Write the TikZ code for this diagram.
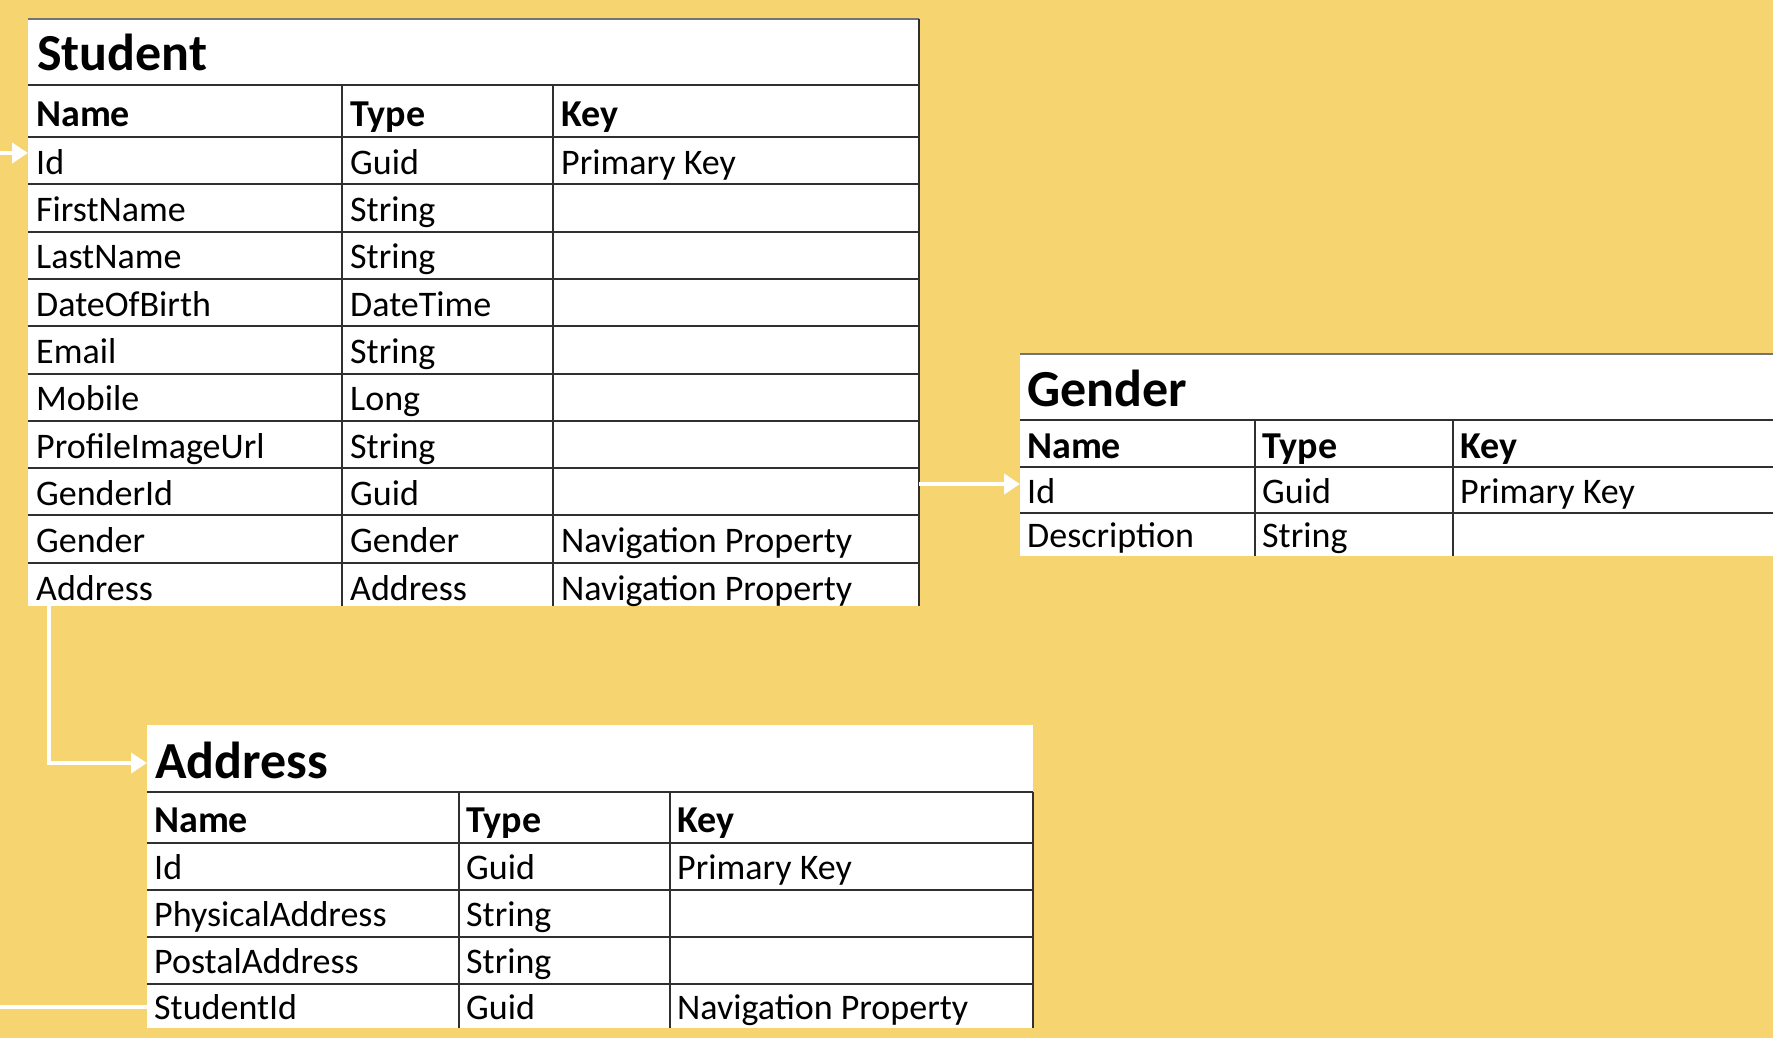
\documentclass[tikz,border=0pt]{standalone}
\usepackage{fontspec}
\setmainfont{Carlito}
\usetikzlibrary{arrows.meta}
\definecolor{bg}{HTML}{F6D46F}
\definecolor{gridc}{HTML}{303030}
\tikzset{
  tbox/.style={fill=white, draw=none, inner sep=0pt, outer sep=0pt, anchor=north west},
  gridline/.style={draw=gridc, line width=2pt},
  border/.style={draw=black!55, line width=1.2pt},
  ttl/.style={anchor=base west, inner sep=0pt, font=\fontsize{52}{60}\selectfont\bfseries},
  hdr/.style={anchor=base west, inner sep=0pt, font=\fontsize{38}{44}\selectfont\bfseries},
  cell/.style={anchor=base west, inner sep=0pt, font=\fontsize{36}{42}\selectfont},
  conn/.style={draw=white, line width=4pt},
  connarrow/.style={conn, -{Triangle[width=20pt,length=16pt]}},
}
\begin{document}
\begin{tikzpicture}[x=1pt,y=-1pt]
\useasboundingbox[fill=bg] (0,0) rectangle (1773,1038);

% ---------------- Student ----------------
\node[tbox, minimum width=891pt, minimum height=587pt] (student) at (28,19) {};
\draw[border] (28,19) -- (919,19);
\draw[gridline] (28,85) -- (919,85);
\draw[gridline] (28,137) -- (919,137);
\foreach \i in {1,...,9} \draw[gridline] (28,137+47.3*\i) -- (919,137+47.3*\i);
\draw[gridline] (342,85) -- (342,606);
\draw[gridline] (553,85) -- (553,606);
\draw[gridline] (919,19) -- (919,606);
\node[ttl] (s-title) at (37,71) {Student};
\node[hdr] (s-hn) at (36,127) {Name};
\node[hdr] (s-ht) at (350,127) {Type};
\node[hdr] (s-hk) at (561,127) {Key};
\foreach \n/\t/\k [count=\i] in {Id/Guid/Primary Key,FirstName/String/,LastName/String/,DateOfBirth/DateTime/,Email/String/,Mobile/Long/,ProfileImageUrl/String/,GenderId/Guid/,Gender/Gender/Navigation Property,Address/Address/Navigation Property}{
  \node[cell] (s-\i-n) at (36,137+47.3*\i-10) {\n};
  \node[cell] (s-\i-t) at (350,137+47.3*\i-10) {\t};
  \node[cell] (s-\i-k) at (561,137+47.3*\i-10) {\k};
}

% ---------------- Gender ----------------
\node[tbox, minimum width=760pt, minimum height=202pt] (gender) at (1020,354) {};
\draw[border] (1020,354) -- (1780,354);
\draw[gridline] (1020,419.5) -- (1780,419.5);
\draw[gridline] (1020,467) -- (1780,467);
\draw[gridline] (1020,513) -- (1780,513);
\draw[gridline] (1255,419.5) -- (1255,556);
\draw[gridline] (1453,419.5) -- (1453,556);
\node[ttl] (g-title) at (1027,406) {Gender};
\node[hdr] (g-hn) at (1027,458) {Name};
\node[hdr] (g-ht) at (1262,458) {Type};
\node[hdr] (g-hk) at (1460,458) {Key};
\node[cell] (g-1-n) at (1027,503) {Id};
\node[cell] (g-1-t) at (1262,503) {Guid};
\node[cell] (g-1-k) at (1460,503) {Primary Key};
\node[cell] (g-2-n) at (1027,547) {Description};
\node[cell] (g-2-t) at (1262,547) {String};

% ---------------- Address ----------------
\node[tbox, minimum width=886pt, minimum height=303pt] (address) at (147,725) {};
\draw[gridline] (147,792) -- (1033,792);
\draw[gridline] (147,843) -- (1033,843);
\foreach \y in {890,937,984} \draw[gridline] (147,\y) -- (1033,\y);
\draw[gridline] (459,792) -- (459,1028);
\draw[gridline] (670,792) -- (670,1028);
\draw[gridline] (1033,792) -- (1033,1028);
\node[ttl] (a-title) at (155,778) {Address};
\node[hdr] (a-hn) at (154,832) {Name};
\node[hdr] (a-ht) at (466,832) {Type};
\node[hdr] (a-hk) at (677,832) {Key};
\foreach \n/\t/\k/\y [count=\i] in {Id/Guid/Primary Key/879,PhysicalAddress/String//926,PostalAddress/String//973,StudentId/Guid/Navigation Property/1019}{
  \node[cell] (a-\i-n) at (154,\y) {\n};
  \node[cell] (a-\i-t) at (466,\y) {\t};
  \node[cell] (a-\i-k) at (677,\y) {\k};
}

% ---------------- Connectors ----------------
\coordinate (c-in) at (0,153);
\draw[connarrow] (c-in) -- (c-in -| student.west);
\coordinate (c-g) at (0,484);
\draw[connarrow] (c-g -| student.east) -- (c-g -| gender.west);
\coordinate (c-a) at (49,763);
\draw[connarrow] (c-a |- student.south) -- (c-a) -- (c-a -| address.west);
\coordinate (c-b) at (0,1007);
\draw[conn] (c-b) -- (c-b -| address.west);
\end{tikzpicture}
\end{document}
